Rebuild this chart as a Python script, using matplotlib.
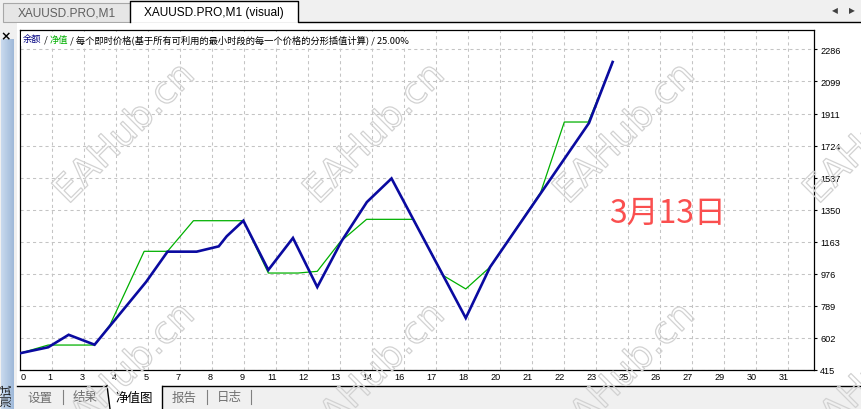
import numpy as np
import matplotlib
matplotlib.use("Agg")
import matplotlib.pyplot as plt
import matplotlib.patheffects as pe
import matplotlib.transforms as mtransforms
from matplotlib.patches import Rectangle, Polygon
from matplotlib.offsetbox import TextArea, HPacker, AnnotationBbox
from matplotlib.colors import LinearSegmentedColormap

CJK = ["Noto Sans CJK SC", "DejaVu Sans"]
LAT = ["Liberation Sans", "DejaVu Sans"]
plt.rcParams["font.family"] = CJK

# ---- 数据 (x = 网格单位, y = 账户金额) ----
balance_x = [0, 0.88, 1.52, 2.33, 3.94, 4.61, 5.52, 6.21, 6.46, 6.98, 7.76, 8.53,
             9.29, 10.05, 10.84, 11.61, 13.93, 14.69, 17.78, 18.52]
balance_y = [510, 545, 618, 560, 927, 1104, 1104, 1135, 1194, 1285, 997, 1184,
             897, 1166, 1394, 1532, 716, 1014, 1856, 2213]

equity_x = [0, 0.88, 2.33, 2.81, 3.88, 4.61, 5.42, 6.98, 7.76, 8.69, 9.29, 10.0,
            10.83, 12.29, 13.23, 13.93, 14.69, 16.27, 17.01, 17.76, 18.49]
equity_y = [510, 558, 558, 675, 1106, 1106, 1285, 1285, 979, 979, 989, 1160,
            1293, 1293, 964, 886, 1014, 1450, 1862, 1862, 2195]

day_labels = ["0", "1", "3", "4", "5", "7", "8", "9", "11", "12", "13", "14", "16",
              "17", "18", "20", "21", "22", "23", "25", "26", "27", "29", "30", "31"]
y_ticks = [415, 602, 789, 976, 1163, 1350, 1537, 1724, 1911, 2099, 2286]

legend_parts = [("余额", "#000080"), (" / ", "black"), ("净值", "#00b000"),
                (" / 每个即时价格(基于所有可利用的最小时段的每一个价格的分形插值计算) / 25.00%", "black")]
bottom_tabs = [("设置", 40), ("结果", 85), ("报告", 184), ("日志", 229)]

W, H = 861, 410
fig = plt.figure(figsize=(W / 100, H / 100), dpi=100)
fig.patch.set_facecolor("#f0f0f0")

# ---- 窗口外框 (像素坐标) ----
bg = fig.add_axes([0, 0, 1, 1], zorder=0)
bg.set_xlim(0, W)
bg.set_ylim(H, 0)
bg.axis("off")

# 顶部标签
bg.add_patch(Rectangle((3, 4), 127, 18.5, fc="#e6e6e6", ec="#a8a8a8", lw=0.8))
bg.add_patch(Rectangle((130, 2), 168, 21, fc="white", ec="none"))
bg.plot([130, 130, 298, 298, 861], [23, 2, 2, 22.5, 22.5], color="black", lw=1)
bg.text(67, 13, "XAUUSD.PRO,M1", ha="center", va="center", fontsize=8.6,
        family=LAT, color="#606060")
bg.text(214, 13, "XAUUSD.PRO,M1 (visual)", ha="center", va="center", fontsize=8.6,
        family=LAT, color="black")
bg.text(835, 11, "◀", ha="center", va="center", fontsize=5.5, family="DejaVu Sans",
        color="#404040")
bg.text(852, 11, "▶", ha="center", va="center", fontsize=5.5, family="DejaVu Sans",
        color="#404040")

# 图表面板
bg.add_patch(Rectangle((17, 24), W - 17, 362.5, fc="white", ec="none"))
bg.text(6, 37, "×", ha="center", va="center", fontsize=9, family="DejaVu Sans",
        fontweight="bold", color="black")
strip = LinearSegmentedColormap.from_list("strip", ["#c9daee", "#9fb9d9"])
bg.imshow(np.linspace(0, 1, 20).reshape(1, -1), cmap=strip, aspect="auto",
          extent=(1, 14, 410, 40), zorder=1)
bg.text(7.5, 395, "测试", rotation=90, ha="center", va="center", fontsize=8.5,
        color="#1a1a1a", zorder=3)
bg.set_xlim(0, W)
bg.set_ylim(H, 0)

# 底部标签
bg.plot([17, 107], [386.5, 386.5], color="black", lw=1)
bg.plot([162, 861], [386.5, 386.5], color="black", lw=1)
bg.add_patch(Polygon([(107, 386.5), (110, 410), (162, 410), (162, 386.5)],
                     closed=True, fc="white", ec="none", zorder=2))
bg.plot([107, 110], [386.5, 410], color="black", lw=1, zorder=3)
bg.plot([162, 162], [386.5, 410], color="black", lw=1, zorder=3)
bg.text(134, 398, "净值图", ha="center", va="center", fontsize=9, color="black", zorder=4)
for name, cx in bottom_tabs:
    bg.text(cx, 398, name, ha="center", va="center", fontsize=9, color="#707070")
for sx in [63, 207, 251]:
    bg.plot([sx, sx], [391, 405], color="#808080", lw=0.8)

# ---- 主图 ----
ax = fig.add_axes([20 / W, (H - 370.5) / H, 794 / W, 339.5 / H], zorder=1)
ax.set_facecolor("none")
ax.set_xlim(0, 794 / 32)
ax.set_ylim(415, 2400)

ax.plot(equity_x, equity_y, color="#00b000", lw=0.9, zorder=3)
ax.plot(balance_x, balance_y, color="#0a0aa0", lw=1.9, zorder=4,
        solid_joinstyle="miter")

ax.set_xticks(range(1, 25))
ax.set_yticks(y_ticks)
ax.grid(True, color="#c4c4c4", linestyle=(0, (3, 3)), lw=0.75)
ax.yaxis.tick_right()
ax.set_yticklabels([str(v) for v in y_ticks], fontsize=6.6, family=LAT)
ax.tick_params(axis="y", length=2.5, width=0.8, pad=2, direction="out")
ax.tick_params(axis="x", length=0, labelbottom=False)
for sp in ax.spines.values():
    sp.set_color("black")
    sp.set_linewidth(0.9)

blend = mtransforms.blended_transform_factory(ax.transData, ax.transAxes)
for k, lab in enumerate(day_labels):
    if k == 0:
        off = mtransforms.ScaledTranslation(1 / 100, -7.5 / 100, fig.dpi_scale_trans)
        ax.text(k, 0, lab, transform=blend + off, ha="left", va="center",
                fontsize=6.6, family=LAT)
    else:
        off = mtransforms.ScaledTranslation(0.5 / 100, -7.5 / 100, fig.dpi_scale_trans)
        ax.text(k, 0, lab, transform=blend + off, ha="right", va="center",
                fontsize=6.6, family=LAT)

# 图例文字
boxes = [TextArea(s, textprops=dict(color=c, fontsize=6.7, family=CJK))
         for s, c in legend_parts]
pack = HPacker(children=boxes, align="baseline", pad=0, sep=0)
ab = AnnotationBbox(pack, (23, H - 40), xycoords="figure pixels",
                    box_alignment=(0, 0.5), frameon=True, pad=0.15,
                    bboxprops=dict(fc="white", ec="none"), zorder=6)
ax.add_artist(ab)

# 日期标注
fig.text(668 / W, 1 - 214 / H, "3月13日", ha="center", va="center",
         fontsize=23, color="#fa4f4f", zorder=5)

# 水印
for cx in [125, 375, 625, 875]:
    for cy in [135, 375]:
        fig.text(cx / W, 1 - cy / H, "EAHub.cn", ha="center", va="center",
                 rotation=45, rotation_mode="anchor", fontsize=27,
                 family="DejaVu Sans", color="none", zorder=10,
                 path_effects=[pe.Stroke(linewidth=0.9, foreground="#d2d2d2")])

fig.savefig("out.png", dpi=100, facecolor=fig.get_facecolor())
